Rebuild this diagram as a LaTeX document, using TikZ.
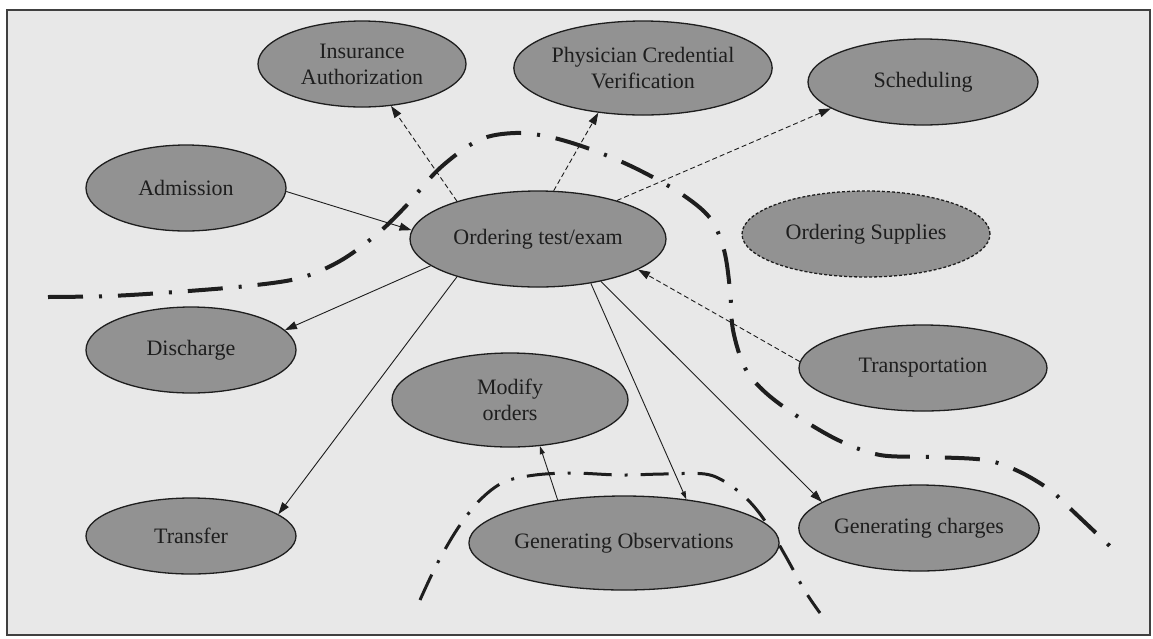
\documentclass[tikz,border=0pt]{standalone}
\usepackage{fontspec}
\setmainfont{Liberation Serif}
\usetikzlibrary{shapes.geometric,arrows.meta}
\definecolor{panel}{HTML}{E8E8E8}
\definecolor{procfill}{HTML}{929292}
\definecolor{ink}{HTML}{1E1E1E}
\tikzset{
  proc/.style 2 args={ellipse, draw=ink, line width=1.3pt, fill=procfill,
    minimum width=#1pt, minimum height=#2pt, inner sep=0pt, align=center,
    text=ink, font=\fontsize{22}{26}\selectfont},
  flow/.style={draw=ink, line width=0.9pt, -{Triangle[length=12pt,width=8pt]}},
  thinflow/.style={draw=ink, line width=0.9pt, -{Triangle[length=8pt,width=5pt]}},
  link/.style={flow, dash pattern=on 5pt off 3pt},
  bigborder/.style={draw=ink, line width=4pt, dash pattern=on 35pt off 16pt on 3pt off 16pt},
  smallborder/.style={draw=ink, line width=3pt, dash pattern=on 28pt off 13pt on 3pt off 13pt}
}
\begin{document}
\begin{tikzpicture}[x=1pt, y=-1pt]
  \useasboundingbox (0,0) rectangle (1153,638);
  \fill[white] (0,0) rectangle (1153,638);
  \draw[fill=panel, draw=ink!85, line width=1.8pt] (7,10) rectangle (1150,635);

  % system boundaries
  \draw[bigborder] plot[smooth, tension=0.55] coordinates {
    (48,297) (110,296) (175,292) (247,286) (300,278) (340,261) (376,235)
    (405,207) (440,168) (479,140) (515,133) (550,137) (590,149) (635,168)
    (680,193) (710,218) (724,250) (730,290) (733,330) (745,368) (766,393)
    (800,418) (840,441) (880,455) (930,457) (985,460) (1018,471) (1050,490)
    (1076,514) (1115,551)};
  \draw[smallborder] plot[smooth, tension=0.55] coordinates {
    (420,600) (437,564) (458,528) (480,500) (504,482) (535,475) (573,473)
    (620,475) (663,474) (705,474) (727,483) (748,500) (765,521) (785,555)
    (805,591) (820,613)};

  % processes
  \node[proc={208}{86}]  (ins) at (362,64)  {Insurance\\Authorization};
  \node[proc={238}{94}]  (pcv) at (643,68)  {Physician Credential\\Verification};
  \node[proc={230}{86}]  (sch) at (923,82)  {Scheduling};
  \node[proc={200}{86}]  (adm) at (186,188) {Admission};
  \node[proc={256}{96}]  (ord) at (538,239) {Ordering test/exam};
  \node[proc={248}{86}, dash pattern=on 3pt off 2pt] (sup) at (866,234) {Ordering Supplies};
  \node[proc={210}{86}]  (dis) at (191,350) {Discharge};
  \node[proc={236}{94}]  (mod) at (510,400) {Modify\\orders};
  \node[proc={248}{86}]  (trn) at (923,368) {Transportation};
  \node[proc={210}{76}]  (trf) at (191,536) {Transfer};
  \node[proc={238}{94}]  (gob) at (624,543) {Generating Observations};
  \node[proc={240}{86}]  (gch) at (919,528) {Generating charges};

  % connections
  \draw[flow] (adm.-2) -- (ord.176);
  \draw[link] (ord.155) -- (ins);
  \draw[link] (ord.72) -- (pcv.225);
  \draw[link] (ord.26) -- (sch.196);
  \draw[link] (trn.177) -- (ord.343);
  \draw[flow] (ord.194) -- (dis.12);
  \draw[flow] (ord.205) -- (trf.14);
  \draw[thinflow] (ord.320) -- (gob.35);
  \draw[flow] (ord.326) -- (gch.165);
  \draw[thinflow] (gob.147) -- (mod.303);
\end{tikzpicture}
\end{document}
